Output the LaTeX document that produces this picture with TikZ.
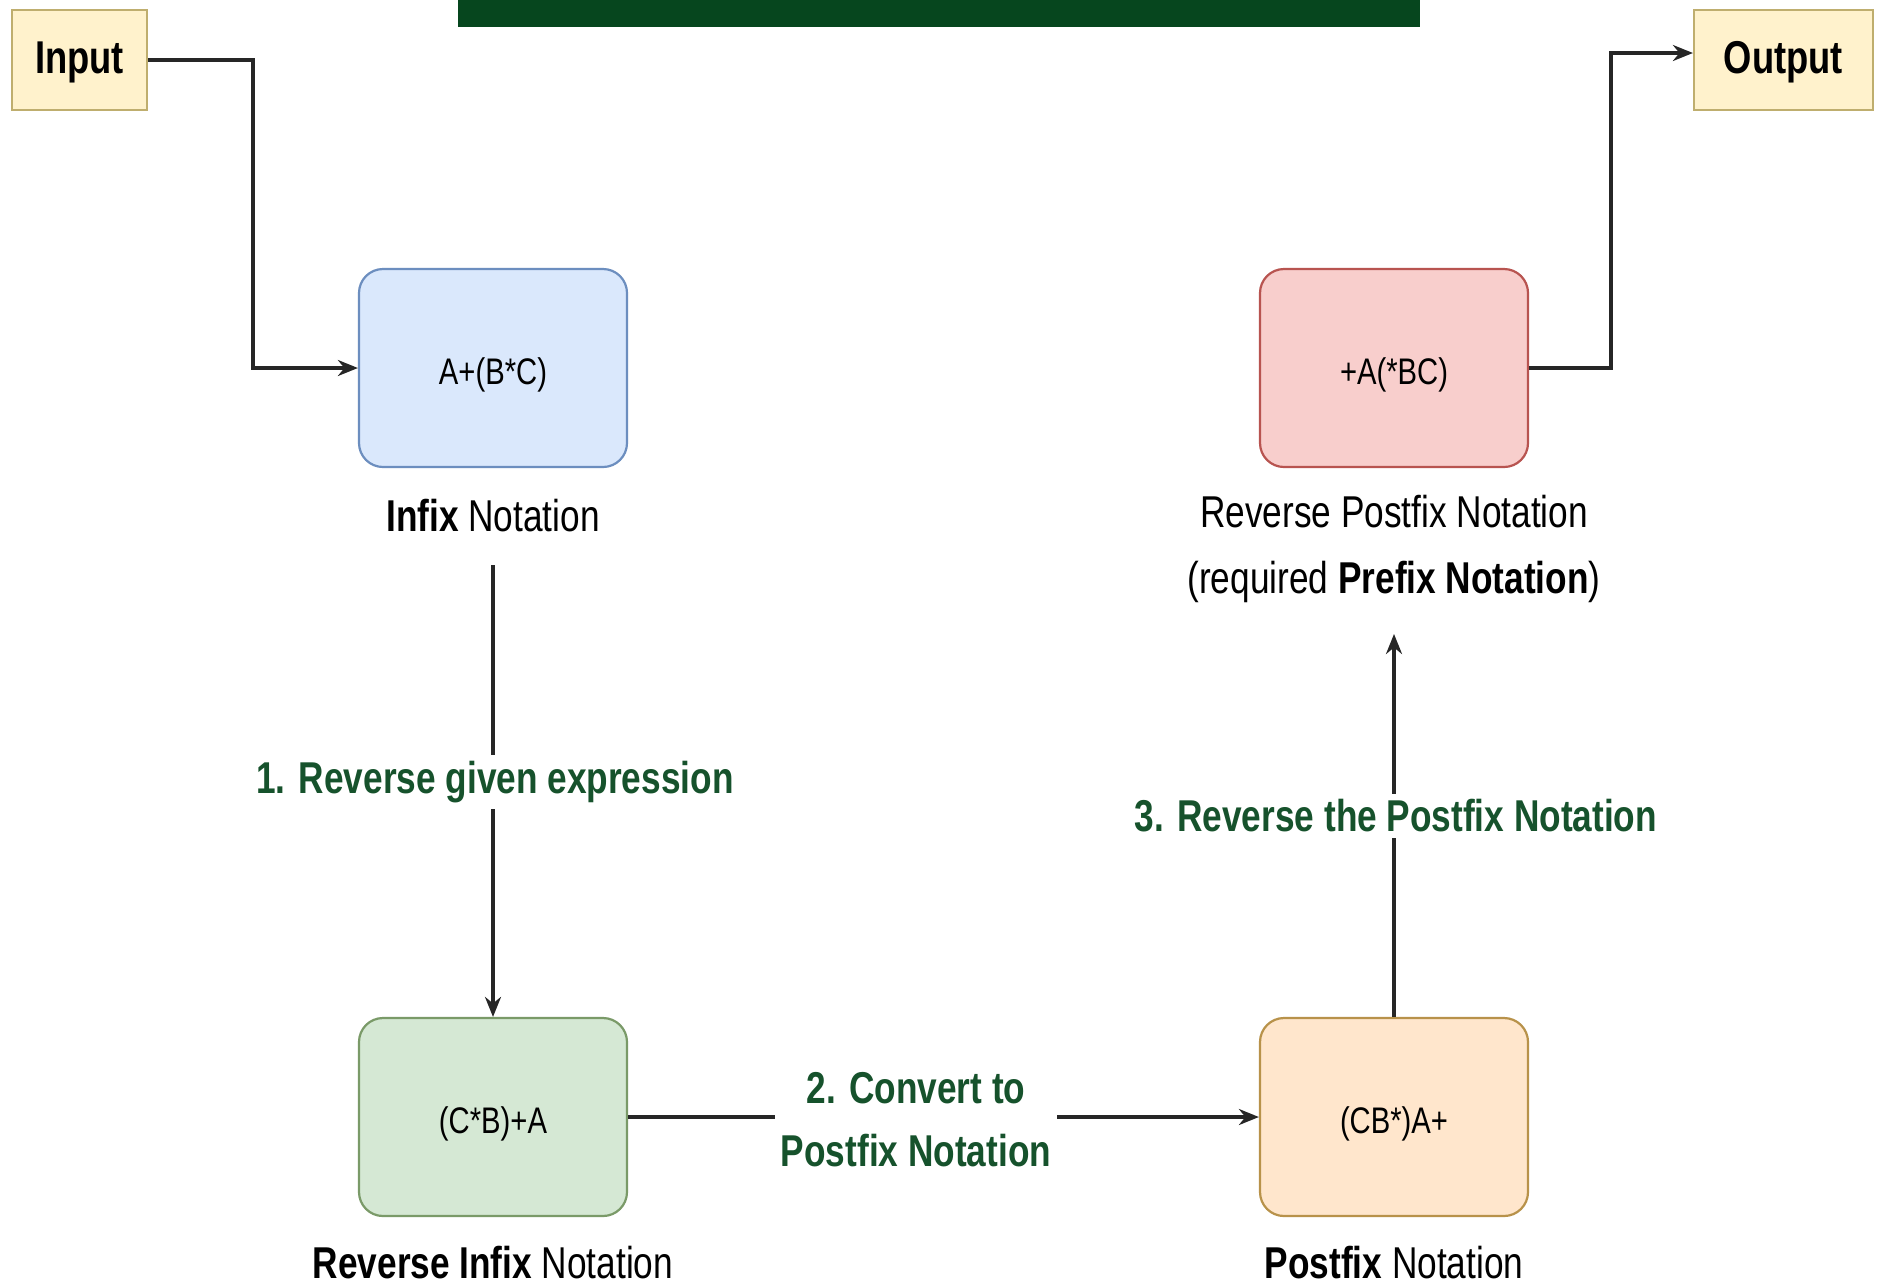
\documentclass[tikz,border=0pt]{standalone}
\usepackage{fontspec}
\setmainfont[FakeStretch=0.79]{Liberation Sans}
\usetikzlibrary{arrows.meta}
\definecolor{ioF}{HTML}{FFF2CC}
\definecolor{ioD}{HTML}{BFAE6E}
\definecolor{blueF}{HTML}{DAE8FC}
\definecolor{blueD}{HTML}{6C8EBF}
\definecolor{greenF}{HTML}{D5E8D4}
\definecolor{greenD}{HTML}{7A9A68}
\definecolor{orangeF}{HTML}{FFE6CC}
\definecolor{orangeD}{HTML}{B8924A}
\definecolor{redF}{HTML}{F8CECC}
\definecolor{redD}{HTML}{B85450}
\definecolor{stepgreen}{RGB}{22,82,44}
\definecolor{titlegreen}{RGB}{6,70,30}
\newcommand{\lowtxt}[2]{\raisebox{-#1}[14pt][4pt]{#2}}
\begin{document}
\begin{tikzpicture}[x=0.5pt,y=-0.5pt,
  procbox/.style={draw, line width=1.1pt, rounded corners=12pt, minimum width=134pt, minimum height=99pt, font=\fontsize{18.5}{22}\selectfont},
  iobox/.style={draw=ioD, fill=ioF, line width=1.1pt, minimum height=50pt, inner sep=0pt, font=\bfseries\fontsize{23}{27}\selectfont},
  capt/.style={font=\fontsize{22.3}{33}\selectfont, align=center, inner sep=1pt},
  steplbl/.style={fill=white, text=stepgreen, font=\bfseries\fontsize{22.3}{31.5}\selectfont, align=center, inner sep=3pt},
  conn/.style={line width=1.6pt, draw=black!85},
  arr/.style={conn, -{Stealth[length=10pt,width=8pt]}}
]
\useasboundingbox (0,0) rectangle (1877,1287);
\fill[white] (0,0) rectangle (1877,1287);
\fill[titlegreen] (458,0) rectangle (1420,27);

% I/O nodes
\node[iobox, minimum width=67.5pt] (in) at (79.5,60) {\lowtxt{1.8pt}{Input}};
\node[iobox, minimum width=89.5pt] (out) at (1783.5,60) {\lowtxt{1.8pt}{Output}};

% process boxes
\node[procbox, fill=blueF, draw=blueD] (infix) at (493,368) {\lowtxt{3pt}{A+(B*C)}};
\node[procbox, fill=greenF, draw=greenD] (revinfix) at (493,1117) {\lowtxt{3pt}{(C*B)+A}};
\node[procbox, fill=orangeF, draw=orangeD] (postfix) at (1394,1117) {\lowtxt{3pt}{(CB*)A+}};
\node[procbox, fill=redF, draw=redD] (revpost) at (1394,368) {\lowtxt{3pt}{+A(*BC)}};

% captions
\node[capt] (infixlbl) at (493,516) {\textbf{Infix} Notation};
\node[capt] (revinfixlbl) at (493,1263) {\textbf{Reverse Infix} Notation};
\node[capt] (postfixlbl) at (1394,1263) {\textbf{Postfix} Notation};
\node[capt] (revpostlbl) at (1394,549) {Reverse Postfix Notation\\(required \textbf{Prefix Notation})};

% connector coordinates
\coordinate (b1) at (253,60);
\coordinate (b2) at (1611,53);
\coordinate (a1s) at (493,565);
\coordinate (a3e) at (1394,634);

% connectors
\draw[arr] (in.east |- b1) -- (b1) |- (infix.west);
\draw[arr] (revpost.east) -| (b2) -- (b2 -| out.west);
\draw[arr] (a1s) -- (revinfix.north);
\draw[arr] (revinfix.east) -- (postfix.west);
\draw[arr] (postfix.north) -- (a3e);

% step labels
\node[steplbl] (s1) at (495,782) {1. Reverse given expression};
\node[steplbl] (s2) at (916,1120) {2. Convert to\\Postfix Notation};
\node[steplbl] (s3) at (1396,816) {3. Reverse the Postfix Notation};
\end{tikzpicture}
\end{document}
